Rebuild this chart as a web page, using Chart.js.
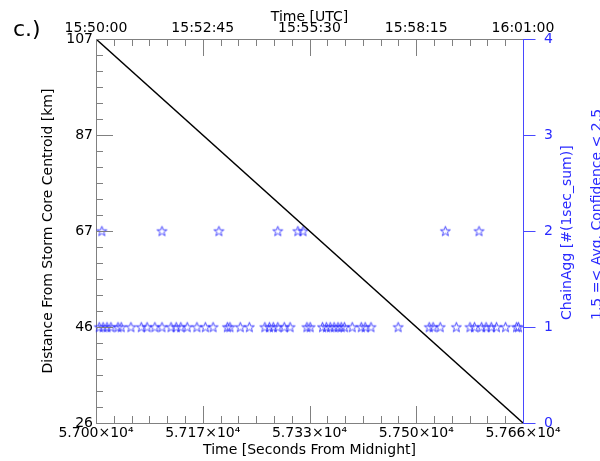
<!DOCTYPE html>
<html>
<head>
<meta charset="utf-8">
<script src="https://cdn.jsdelivr.net/npm/chart.js@4.4.0/dist/chart.umd.min.js"></script>
<style>
  body { margin: 0; background: #fff; }
  #wrap { position: relative; width: 600px; height: 461px; }
</style>
</head>
<body>
<div id="wrap"><canvas id="chart" width="600" height="461"></canvas></div>
<script>
// storm core distance (left axis)
const trackSeconds = [57000, 57660];
const trackDistance = [107, 26];

// ChainAgg 1 s sums (right axis), times in seconds from midnight
const aggOneSeconds = [57005, 57011, 57017, 57023, 57034, 57039, 57054, 57070, 57079, 57091,
  57102, 57116, 57124, 57131, 57141, 57156, 57169, 57181, 57203, 57207, 57223, 57237,
  57261, 57268, 57274, 57281, 57291, 57300, 57326, 57331, 57350, 57356, 57362, 57368,
  57374, 57379, 57384, 57396, 57410, 57416, 57425, 57467, 57515, 57521, 57532, 57557,
  57578, 57585, 57596, 57603, 57611, 57619, 57633, 57650, 57653];
const aggTwoSeconds = [57009, 57102, 57190, 57281, 57312, 57320, 57540, 57592];

const secTicks = [57000, 57165, 57330, 57495, 57660];
const secLabels = ['5.700×10⁴', '5.717×10⁴', '5.733×10⁴', '5.750×10⁴', '5.766×10⁴'];
const utcLabels = ['15:50:00', '15:52:45', '15:55:30', '15:58:15', '16:01:00'];
const distTicks = [26, 46.25, 66.5, 86.75, 107];
const distLabels = ['26', '46', '67', '87', '107'];
const aggTicks = [0, 1, 2, 3, 4];
const minorPerMajor = 6;

const FONT = 'DejaVu Sans';
const GRAY = '#808080';
const BLUE = '#2a2aff';
const AXISBLUE = '#4848ff';

function withMinors(majors, minors) {
  return function (scale) {
    const out = [];
    for (let i = 0; i < majors.length - 1; i++) {
      const step = (majors[i + 1] - majors[i]) / minors;
      for (let j = 0; j < minors; j++) out.push({value: majors[i] + j * step});
    }
    out.push({value: majors[majors.length - 1]});
    scale.ticks = out;
  };
}
function isMajor(majors, v) {
  return majors.some(m => Math.abs(m - v) < 1e-6);
}
function majorLabel(majors, labels) {
  return function (value) {
    const i = majors.findIndex(m => Math.abs(m - value) < 1e-6);
    return i < 0 ? '' : labels[i];
  };
}

function starImage() {
  const c = document.createElement('canvas');
  c.width = 13; c.height = 13;
  const g = c.getContext('2d');
  g.strokeStyle = 'rgba(30,30,255,0.8)';
  g.lineWidth = 1;
  g.beginPath();
  for (let k = 0; k < 10; k++) {
    const r = k % 2 ? 2.1 : 5.2;
    const a = -Math.PI / 2 + k * Math.PI / 5;
    const px = 6.5 + r * Math.cos(a), py = 7 + r * Math.sin(a);
    if (k) g.lineTo(px, py); else g.moveTo(px, py);
  }
  g.closePath();
  g.stroke();
  return c;
}
const star = starImage();

// tick marks drawn inward (IDL style) plus the blue right axis
const axisTicks = {
  id: 'axisTicks',
  afterDraw(chart) {
    const ctx = chart.ctx, a = chart.chartArea;
    ctx.save();
    ctx.strokeStyle = GRAY;
    ctx.lineWidth = 1;
    const specs = [['x', secTicks, 'bottom'], ['xTop', secTicks, 'top'], ['y', distTicks, 'left']];
    for (const [id, majors, side] of specs) {
      const sc = chart.scales[id];
      for (const t of sc.ticks) {
        const len = isMajor(majors, t.value) ? 17 : 7;
        const p = Math.round(sc.getPixelForValue(t.value)) + 0.5;
        ctx.beginPath();
        if (side === 'bottom') { ctx.moveTo(p, a.bottom); ctx.lineTo(p, a.bottom - len); }
        else if (side === 'top') { ctx.moveTo(p, a.top); ctx.lineTo(p, a.top + len); }
        else { ctx.moveTo(a.left, p); ctx.lineTo(a.left + len, p); }
        ctx.stroke();
      }
    }
    const r = chart.scales.y2;
    const xr = Math.round(a.right) + 0.5;
    ctx.strokeStyle = AXISBLUE;
    ctx.beginPath();
    ctx.moveTo(xr, Math.round(a.top));
    ctx.lineTo(xr, Math.round(a.bottom) + 1);
    ctx.stroke();
    for (const t of r.ticks) {
      const p = Math.round(r.getPixelForValue(t.value)) + 0.5;
      ctx.beginPath();
      ctx.moveTo(xr, p);
      ctx.lineTo(xr + 12, p);
      ctx.stroke();
    }
    ctx.restore();
  }
};

// panel letter and the two-line right axis title
const extraText = {
  id: 'extraText',
  afterDraw(chart) {
    const ctx = chart.ctx;
    ctx.save();
    ctx.fillStyle = '#000';
    ctx.font = '22px "' + FONT + '"';
    ctx.textBaseline = 'alphabetic';
    ctx.fillText('c.)', 13, 36);
    ctx.fillStyle = BLUE;
    ctx.font = '14px "' + FONT + '"';
    ctx.textAlign = 'left';
    ctx.textBaseline = 'middle';
    const lines = [['ChainAgg [#(1sec_sum)]', 567], ['1.5 =< Avg. Confidence < 2.5', 597]];
    for (const [txt, x] of lines) {
      ctx.save();
      ctx.translate(x, 320);
      ctx.rotate(-Math.PI / 2);
      ctx.fillText(txt, 0, 0);
      ctx.restore();
    }
    ctx.restore();
  }
};

const tickFont = {family: FONT, size: 14};

new Chart(document.getElementById('chart'), {
  data: {
    datasets: [
      {
        type: 'line',
        data: trackSeconds.map((s, i) => ({x: s, y: trackDistance[i]})),
        borderColor: '#000',
        borderWidth: 1.4,
        pointRadius: 0,
        xAxisID: 'x',
        yAxisID: 'y'
      },
      {
        type: 'scatter',
        data: aggOneSeconds.map(s => ({x: s, y: 1})).concat(aggTwoSeconds.map(s => ({x: s, y: 2}))),
        pointStyle: star,
        pointRadius: 5,
        clip: false,
        xAxisID: 'x',
        yAxisID: 'y2'
      }
    ]
  },
  options: {
    responsive: false,
    animation: false,
    layout: {padding: 0},
    plugins: {legend: {display: false}, tooltip: {enabled: false}},
    scales: {
      x: {
        type: 'linear', position: 'bottom',
        min: secTicks[0], max: secTicks[secTicks.length - 1],
        afterBuildTicks: withMinors(secTicks, minorPerMajor),
        afterFit(s) { s.height = 38; },
        grid: {drawOnChartArea: false, drawTicks: false},
        border: {color: GRAY},
        ticks: {autoSkip: false, maxRotation: 0, padding: 2, color: '#000', font: tickFont,
          callback: majorLabel(secTicks, secLabels)},
        title: {display: true, text: 'Time [Seconds From Midnight]', color: '#000', font: tickFont,
          padding: {top: 0, bottom: 2}}
      },
      xTop: {
        type: 'linear', position: 'top',
        min: secTicks[0], max: secTicks[secTicks.length - 1],
        afterBuildTicks: withMinors(secTicks, minorPerMajor),
        afterFit(s) { s.height = 39; },
        grid: {drawOnChartArea: false, drawTicks: false},
        border: {color: GRAY},
        ticks: {autoSkip: false, maxRotation: 0, padding: 2, color: '#000', font: tickFont,
          callback: majorLabel(secTicks, utcLabels)},
        title: {display: true, text: 'Time [UTC]', color: '#000', font: tickFont,
          padding: {top: 9, bottom: 0}}
      },
      y: {
        type: 'linear', position: 'left',
        min: distTicks[0], max: distTicks[distTicks.length - 1],
        afterBuildTicks: withMinors(distTicks, minorPerMajor),
        afterFit(s) { s.width = 96; },
        grid: {drawOnChartArea: false, drawTicks: false},
        border: {color: GRAY},
        ticks: {autoSkip: false, padding: 3, color: '#000', font: tickFont,
          callback: majorLabel(distTicks, distLabels)},
        title: {display: true, text: 'Distance From Storm Core Centroid [km]', color: '#000', font: tickFont,
          padding: {top: 40, bottom: 0}}
      },
      y2: {
        type: 'linear', position: 'right',
        min: aggTicks[0], max: aggTicks[aggTicks.length - 1],
        afterBuildTicks: withMinors(aggTicks, 1),
        afterFit(s) { s.width = 77; },
        grid: {display: false},
        border: {display: false},
        ticks: {autoSkip: false, padding: 13, color: BLUE, font: tickFont,
          callback: v => String(v)}
      }
    }
  },
  plugins: [axisTicks, extraText]
});
</script>
</body>
</html>
